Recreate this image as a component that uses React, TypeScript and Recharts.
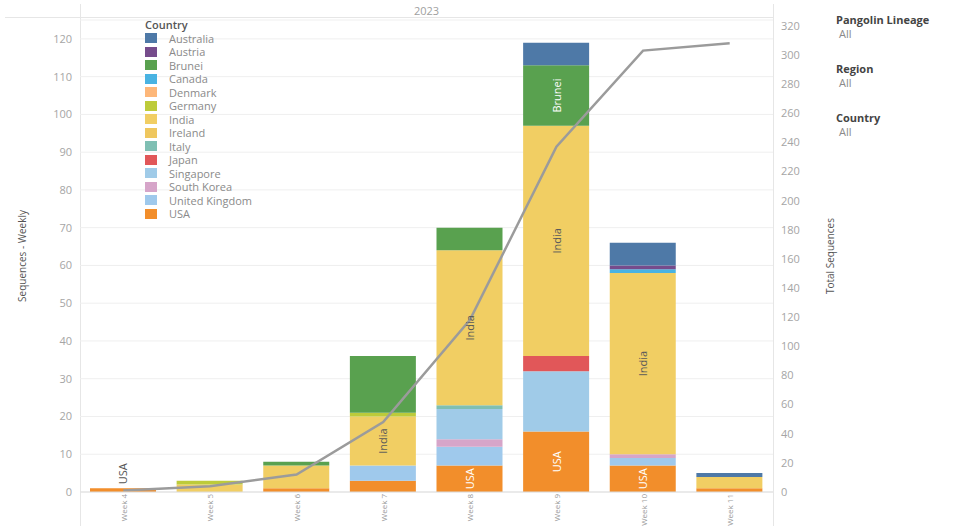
import React from 'react';
import {
  ComposedChart,
  Bar,
  Line,
  XAxis,
  YAxis,
  CartesianGrid,
  LabelList,
} from 'recharts';

const weeks = ['Week 4', 'Week 5', 'Week 6', 'Week 7', 'Week 8', 'Week 9', 'Week 10', 'Week 11'];

const countries = [
  'Australia',
  'Austria',
  'Brunei',
  'Canada',
  'Denmark',
  'Germany',
  'India',
  'Ireland',
  'Italy',
  'Japan',
  'Singapore',
  'South Korea',
  'United Kingdom',
  'USA',
];

const colors = [
  '#4E79A7',
  '#764C8C',
  '#59A14F',
  '#49B3E2',
  '#FDB779',
  '#BDCB3A',
  '#F1CE63',
  '#EFC75E',
  '#7FBFB3',
  '#E15759',
  '#A0CBE8',
  '#D6A5C9',
  '#9FC9EC',
  '#F28E2B',
];

// weekly sequences per country, Week 4 .. Week 11
const australia = [0, 0, 0, 0, 0, 6, 6, 1];
const austria = [0, 0, 0, 0, 0, 0, 1, 0];
const brunei = [0, 0, 1, 15, 6, 16, 0, 0];
const canada = [0, 0, 0, 0, 0, 0, 1, 0];
const denmark = [0, 0, 0, 0, 0, 0, 0, 0];
const germany = [0, 1, 0, 1, 0, 0, 0, 0];
const india = [0, 2, 6, 13, 41, 61, 48, 3];
const ireland = [0, 0, 0, 0, 0, 0, 0, 0];
const italy = [0, 0, 0, 0, 1, 0, 0, 0];
const japan = [0, 0, 0, 0, 0, 4, 0, 0];
const singapore = [0, 0, 0, 0, 8, 16, 0, 0];
const southKorea = [0, 0, 0, 0, 2, 0, 1, 0];
const unitedKingdom = [0, 0, 0, 4, 5, 0, 2, 0];
const usa = [1, 0, 1, 3, 7, 16, 7, 1];

// running total (right axis)
const totalSequences = [1, 4, 12, 48, 118, 237, 303, 308];

const leftTicks = [0, 10, 20, 30, 40, 50, 60, 70, 80, 90, 100, 110, 120];
const rightTicks = [0, 20, 40, 60, 80, 100, 120, 140, 160, 180, 200, 220, 240, 260, 280, 300, 320];

const filters = [
  { title: 'Pangolin Lineage', value: 'All' },
  { title: 'Region', value: 'All' },
  { title: 'Country', value: 'All' },
];

const labeledCountries = ['USA', 'India', 'Brunei'];
const darkLabelCountries = ['India'];

const seriesValues = [
  australia,
  austria,
  brunei,
  canada,
  denmark,
  germany,
  india,
  ireland,
  italy,
  japan,
  singapore,
  southKorea,
  unitedKingdom,
  usa,
];

const chartData = weeks.map((week, i) => {
  const row: Record<string, number | string> = { week, total: totalSequences[i] };
  countries.forEach((c, k) => {
    row[c] = seriesValues[k][i];
  });
  return row;
});

const weekTotal = (i: number) => seriesValues.reduce((s, arr) => s + arr[i], 0);

const FONT = '"Open Sans", "DejaVu Sans", sans-serif';

const WeekTick = (props: any) => {
  const { x, y, payload } = props;
  return (
    <text
      x={x}
      y={y}
      transform={`rotate(-90 ${x} ${y})`}
      textAnchor="end"
      dominantBaseline="central"
      fill="#9a9a9a"
      fontSize={8}
      fontFamily={FONT}
    >
      {payload.value}
    </text>
  );
};

const makeSegmentLabel = (country: string, values: number[]) => (props: any) => {
  const vb = props.viewBox ?? props;
  const { x, y, width } = vb;
  const height = Math.abs(vb.height);
  const index = props.index;
  const v = values[index];
  if (!v) return null;
  const cx = x + width / 2;
  const dark = darkLabelCountries.includes(country);
  if (height >= 24) {
    const cy = Math.min(y, y + vb.height) + height / 2;
    return (
      <text
        x={cx}
        y={cy}
        transform={`rotate(-90 ${cx} ${cy})`}
        textAnchor="middle"
        dominantBaseline="central"
        fill={dark ? '#5a5a5a' : '#ffffff'}
        fontSize={11}
        fontFamily={FONT}
      >
        {country}
      </text>
    );
  }
  if (v === weekTotal(index)) {
    const top = Math.min(y, y + vb.height) - 4;
    return (
      <text
        x={cx}
        y={top}
        transform={`rotate(-90 ${cx} ${top})`}
        textAnchor="start"
        dominantBaseline="central"
        fill="#555"
        fontSize={11}
        fontFamily={FONT}
      >
        {country}
      </text>
    );
  }
  return null;
};

export default function App() {
  const stackOrder = countries.map((c, k) => k).reverse();
  return (
    <div
      style={{
        position: 'fixed',
        left: 0,
        top: 0,
        width: 960,
        height: 526,
        background: '#fff',
        fontFamily: FONT,
        overflow: 'hidden',
      }}
    >
      {/* header and frame lines */}
      <div style={{ position: 'absolute', left: 5, top: 17, width: 768, height: 1, background: '#e6e6e6' }} />
      <div style={{ position: 'absolute', left: 80, top: 4, width: 1, height: 522, background: '#e6e6e6' }} />
      <div style={{ position: 'absolute', left: 773, top: 4, width: 1, height: 522, background: '#e6e6e6' }} />
      <div
        style={{
          position: 'absolute',
          left: 80,
          width: 693,
          top: 3,
          textAlign: 'center',
          fontSize: 11,
          color: '#a0a0a0',
        }}
      >
        2023
      </div>

      <div style={{ position: 'absolute', left: 0, top: 0 }}>
        <ComposedChart
          width={960}
          height={526}
          data={chartData}
          margin={{ top: 20, right: 0, bottom: 0, left: 0 }}
        >
          <CartesianGrid yAxisId="left" vertical={false} stroke="#efefef" />
          <XAxis
            dataKey="week"
            height={34}
            tick={<WeekTick />}
            tickLine={false}
            tickSize={0}
            tickMargin={2}
            axisLine={{ stroke: '#dddddd' }}
            interval={0}
          />
          <YAxis
            yAxisId="left"
            width={80}
            domain={[0, 125]}
            ticks={leftTicks}
            axisLine={false}
            tickLine={false}
            tick={{ fill: '#a5a5a5', fontSize: 11, fontFamily: FONT }}
            label={{
              value: 'Sequences - Weekly',
              angle: -90,
              position: 'insideLeft',
              offset: 22,
              style: { fill: '#555', fontSize: 10, fontFamily: FONT, textAnchor: 'middle' },
            }}
          />
          <YAxis
            yAxisId="right"
            orientation="right"
            width={187}
            domain={[0, 324]}
            ticks={rightTicks}
            axisLine={false}
            tickLine={false}
            tick={{ fill: '#a5a5a5', fontSize: 11, fontFamily: FONT, textAnchor: 'start' }}
            label={{
              value: 'Total Sequences',
              angle: -90,
              position: 'insideLeft',
              offset: 57,
              style: { fill: '#555', fontSize: 10, fontFamily: FONT, textAnchor: 'middle' },
            }}
          />
          {stackOrder.map(k => (
            <Bar
              key={countries[k]}
              yAxisId="left"
              dataKey={countries[k]}
              stackId="weekly"
              fill={colors[k]}
              barSize={66}
              isAnimationActive={false}
            >
              {labeledCountries.includes(countries[k]) && (
                <LabelList
                  dataKey={countries[k]}
                  content={makeSegmentLabel(countries[k], seriesValues[k])}
                />
              )}
            </Bar>
          ))}
          <Line
            yAxisId="right"
            type="linear"
            dataKey="total"
            stroke="#9b9b9b"
            strokeWidth={2.5}
            dot={false}
            activeDot={false}
            isAnimationActive={false}
          />
        </ComposedChart>
      </div>

      {/* colour legend */}
      <div style={{ position: 'absolute', left: 145, top: 18, fontSize: 11, lineHeight: '13.5px' }}>
        <div style={{ color: '#555', fontWeight: 600, marginBottom: 0 }}>Country</div>
        {countries.map((c, k) => (
          <div key={c} style={{ display: 'flex', alignItems: 'center', height: 13.5 }}>
            <span
              style={{
                display: 'inline-block',
                width: 12,
                height: 10,
                background: colors[k],
                marginRight: 12,
              }}
            />
            <span style={{ color: '#8a8a8a' }}>{c}</span>
          </div>
        ))}
      </div>

      {/* filters */}
      <div style={{ position: 'absolute', left: 836, top: 13, fontSize: 11 }}>
        {filters.map(f => (
          <div key={f.title} style={{ marginBottom: 22 }}>
            <div style={{ color: '#444', fontWeight: 700, lineHeight: '14px' }}>{f.title}</div>
            <div style={{ color: '#8a8a8a', lineHeight: '13px', paddingLeft: 3 }}>{f.value}</div>
          </div>
        ))}
      </div>
    </div>
  );
}
